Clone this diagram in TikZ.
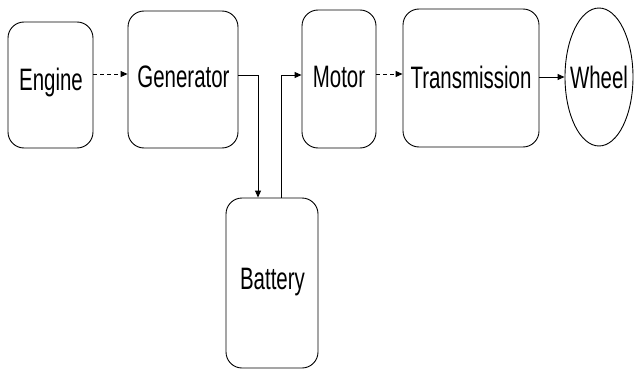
\documentclass[tikz,border=0pt]{standalone}
\usepackage{fontspec}
\setmainfont{Liberation Sans}
\newfontfamily\narrowfont[FakeStretch=0.66]{Liberation Sans}
\usetikzlibrary{arrows.meta,shapes.geometric}
\begin{document}
\begin{tikzpicture}[x=1pt,y=-1pt,
  blk/.style={draw,line width=0.9pt,rounded corners=16pt,inner sep=0pt},
  lbl/.style={font=\narrowfont\fontsize{31}{33}\selectfont},
  conn/.style={line width=0.9pt,-{Triangle[length=7pt,width=6pt]}},
  brk/.style={dash pattern=on 4pt off 3pt}]
\useasboundingbox (0,0) rectangle (635,372);
\node[blk,minimum width=85pt,minimum height=126pt] (eng) at (50.5,85) {};
\node[lbl] at (51,82) {Engine};
\node[blk,minimum width=110pt,minimum height=137pt] (gen) at (183,79.5) {};
\node[lbl] at (183.5,77) {Generator};
\node[blk,minimum width=74pt,minimum height=138pt] (mot) at (339,79) {};
\node[lbl] at (339,77) {Motor};
\node[blk,minimum width=136pt,minimum height=138pt] (tra) at (471,78) {};
\node[lbl] at (471,77) {Transmission};
\node[draw,line width=0.9pt,ellipse,minimum width=68pt,minimum height=138pt,inner sep=0pt] (whl) at (599,77) {};
\node[lbl] at (599,77) {Wheel};
\node[blk,minimum width=92pt,minimum height=170pt] (bat) at (272,283) {};
\node[lbl] at (272.5,282) {Battery};
\coordinate (g1) at (258,75);
\coordinate (b1) at (281,75);
\draw[conn,brk] (eng.east |- 0,74) -- (gen.west |- 0,74);
\draw[conn] (gen.east |- g1) -- (g1) -- (g1 |- bat.north);
\draw[conn] (b1 |- bat.north) -- (b1) -- (mot.west |- b1);
\draw[conn,brk] (mot.east |- 0,74) -- (tra.west |- 0,74);
\draw[conn] (tra.east |- 0,77) -- (whl.west |- 0,77);
\end{tikzpicture}
\end{document}
